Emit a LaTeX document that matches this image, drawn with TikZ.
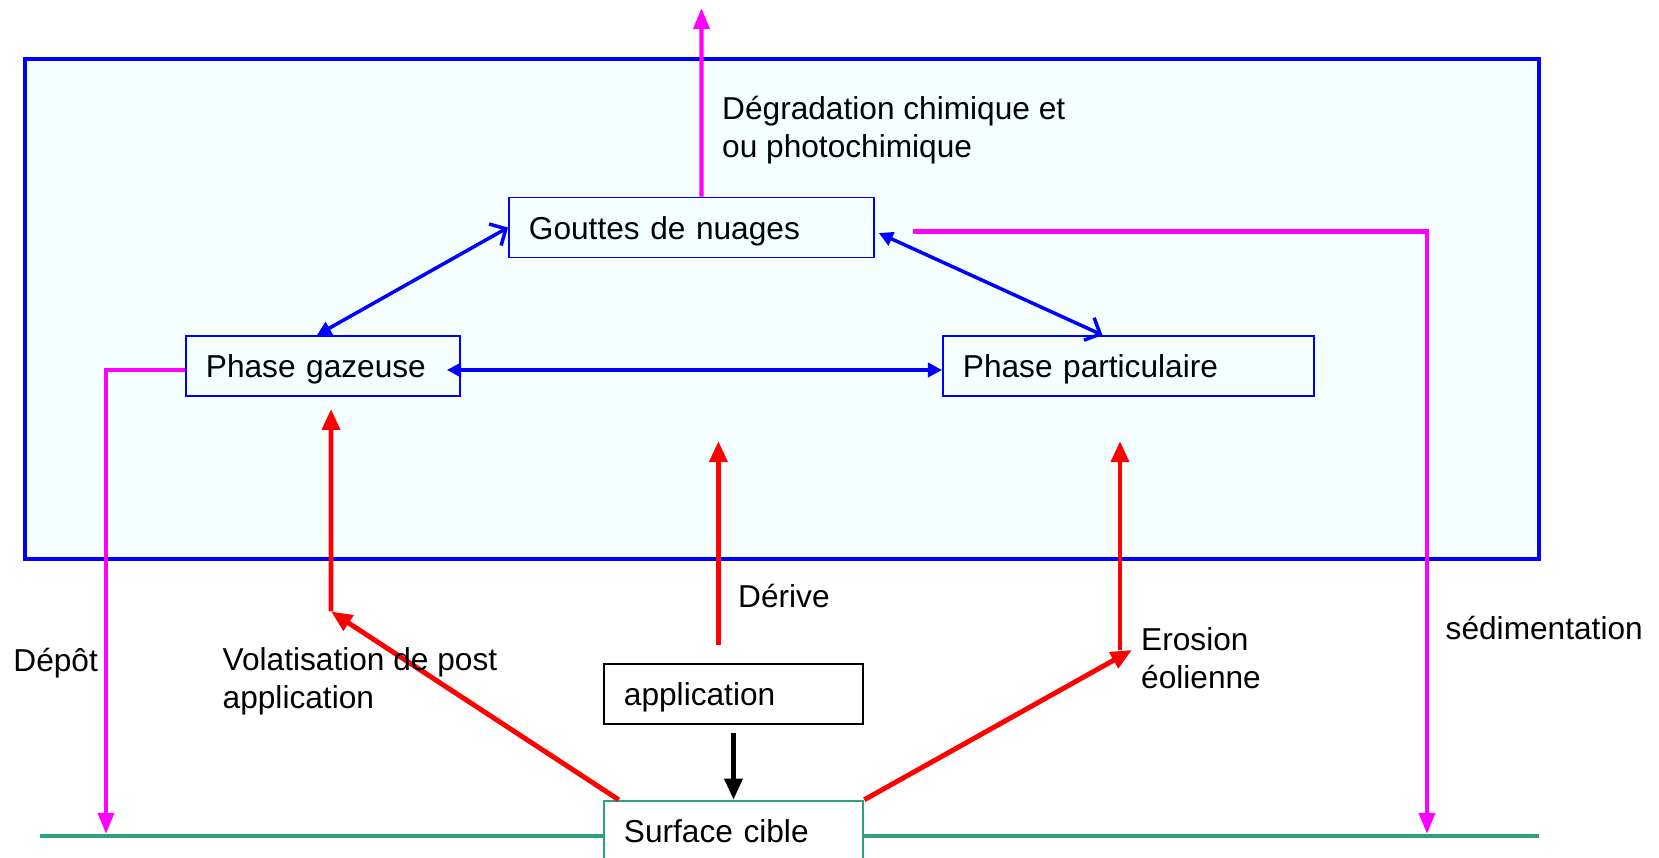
\documentclass[tikz,border=0pt]{standalone}
\usepackage{fontspec}
\setmainfont{Liberation Sans}
\usetikzlibrary{arrows.meta}
\definecolor{fondciel}{RGB}{245,255,255}
\definecolor{sol}{RGB}{46,160,128}
\definecolor{rose}{RGB}{255,0,255}

\begin{document}
\begin{tikzpicture}[x=0.01cm, y=-0.01cm,
        font=\fontsize{9}{10.8}\selectfont,
        phase/.style = {draw=blue, line width=0.5pt, fill=fondciel,
            minimum height=0.6cm, inner xsep=0.2cm, align=left,
            text height=8pt, text depth=1.2pt},
        boite/.style = {line width=0.7pt, fill=white, minimum height=0.6cm,
            inner xsep=0.2cm, text width=2.19cm, text height=8pt, text depth=1.2pt},
        flux/.style = {red, line width=1.4pt,
            -{Triangle[length=6pt,width=5pt]}},
        transfert/.style = {rose, line width=1.2pt,
            -{Triangle[length=6pt,width=4.5pt]}},
        echange/.style = {blue, line width=1pt},
        legende/.style = {anchor=west, align=left, inner sep=0pt}]

        \useasboundingbox (0,0) rectangle (1659,858);

        % Atmosphere
        \draw[blue, line width=1.2pt, fill=fondciel] (25,59) rectangle (1539,559);

        % Sol
        \draw[sol, line width=1.4pt] (40,836) -- (1539,836);

        % Compartiments
        \node[phase, text width=3.25cm] (gou) at (691.5,227.5) {Gouttes de nuages};
        \node[phase, text width=2.34cm] (gaz) at (323,366) {Phase gazeuse};
        \node[phase, text width=3.31cm] (par) at (1128.5,366) {Phase particulaire};
        \node[boite, draw] (app) at (733.5,694) {application};
        \node[boite, draw=sol] (sur) at (733.5,831) {Surface cible};

        % Points libres
        \coordinate (haut) at (701.5,8);
        \coordinate (depot) at (106,834);
        \coordinate (sedim) at (1427,834);
        \coordinate (volat) at (331,611.5);
        \coordinate (derb) at (718.4,645);
        \coordinate (derh) at (718.4,441);
        \coordinate (eros) at (1132,650);
        \coordinate (erob) at (1120,650);
        \coordinate (eroh) at (1120,441);

        % Echanges entre phases
        \draw[echange, {Triangle[length=4pt,width=4pt]}-{Straight Barb[length=3.5pt,width=7pt]}]
            ([xshift=-0.06cm]gaz.north) -- (gou.west);
        \draw[echange, {Triangle[length=4pt,width=4pt]}-{Straight Barb[length=3.5pt,width=7pt]},
            shorten <=-1pt] ([xshift=0.07cm,yshift=-0.07cm]gou.east) -- ([xshift=-0.26cm]par.north);
        \draw[echange, {Triangle[length=4pt,width=4pt]}-{Triangle[length=4pt,width=4pt]}]
            ([xshift=-0.14cm,yshift=-0.04cm]gaz.east) -- ([yshift=-0.04cm]par.west);

        % Sorties
        \draw[transfert] ([xshift=0.1cm]gou.north) -- (haut);
        \draw[transfert] ([xshift=0.38cm,yshift=-0.04cm]gou.east) -| (sedim);
        \draw[transfert] ([yshift=-0.04cm]gaz.west) -| (depot);

        % Apports
        \draw[flux] (sur.north west) ++(16,0) -- (volat);
        \draw[flux, shorten >=0.12cm] (volat) -- ([xshift=0.08cm]gaz.south);
        \draw[flux] (derb) -- (derh);
        \draw[flux] (sur.north east) -- (eros);
        \draw[flux] (erob) -- (eroh);
        \draw[line width=1.4pt, -{Triangle[length=6pt,width=5pt]}, shorten <=0.08cm]
            (app.south) -- (sur.north);

        % Legendes
        \node[legende] (tdeg) at (721.5,130) {Dégradation chimique et\\ou photochimique};
        \node[legende] (tder) at (737.5,596) {Dérive};
        \node[legende] (tvol) at (222,681) {Volatisation de post\\application};
        \node[legende] (tdep) at (12.7,663) {Dépôt};
        \node[legende] (tero) at (1140.5,658) {Erosion\\éolienne};
        \node[legende] (tsed) at (1445,628) {sédimentation};

    \end{tikzpicture}
\end{document}
